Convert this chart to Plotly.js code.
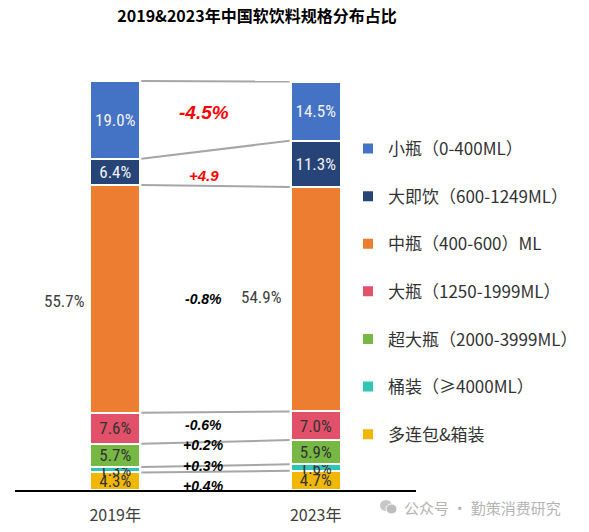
<!DOCTYPE html>
<html>
<head>
<meta charset="utf-8">
<script src="https://cdn.plot.ly/plotly-3.0.1.min.js"></script>
<style>html,body{margin:0;padding:0;background:#fff;}#chart{width:589px;height:532px;}</style>
</head>
<body>
<div id="chart"></div>
<script>
// ---- data ----
const categories = ['2019年', '2023年'];
const seriesNames = ['多连包&箱装', '桶装（≥4000ML）', '超大瓶（2000-3999ML）', '大瓶（1250-1999ML）', '中瓶（400-600）ML', '大即饮（600-1249ML）', '小瓶（0-400ML）'];
const values2019 = [4.3, 1.3, 5.7, 7.6, 55.7, 6.4, 19.0];
const values2023 = [4.7, 1.6, 5.9, 7.0, 54.9, 11.3, 14.5];
const changeLabels = ['+0.4%', '+0.3%', '+0.2%', '-0.6%', '-0.8%', '+4.9', '-4.5%'];
const titleText = '2019&2023年中国软饮料规格分布占比';
const watermarkText = '公众号 · 勤策消费研究';

// ---- styles ----
const colors = ['#F2B705', '#2EC4B6', '#76B843', '#E2506A', '#ED7D31', '#264478', '#4472C4'];
const labelColors = ['#333333', '#333333', '#333333', '#333333', '#333333', '#F2F2F2', '#F2F2F2'];
const cjk = '"Noto Sans CJK SC", "Noto Sans", sans-serif';
const num = '"Liberation Sans Narrow", "Roboto Condensed", "Liberation Sans", Arial, sans-serif';
const BW = 0.25;            // bar width (category units)
const MID = 4;              // index of 中瓶 (label outside)
const changeStyle = [
  {size: 14, color: '#000', yshift: -5},
  {size: 14, color: '#000', yshift: 3},
  {size: 14, color: '#000', yshift: 9},
  {size: 14, color: '#000', yshift: 2},
  {size: 14, color: '#000', yshift: 0},
  {size: 15, color: '#FF0000', yshift: -8},
  {size: 19, color: '#FF0000', yshift: 3}
];

const traces = seriesNames.map((name, i) => ({
  type: 'bar',
  name: name,
  legendgroup: 'g' + i,
  legendrank: 100 - i,
  x: categories,
  y: [values2019[i], values2023[i]],
  width: BW,
  marker: {color: colors[i], line: {color: '#ffffff', width: 2}},
  text: i === MID ? null : [values2019[i], values2023[i]].map(v => v.toFixed(1) + '%'),
  textposition: i === MID ? 'none' : 'inside',
  insidetextanchor: 'middle',
  constraintext: 'none',
  textfont: {family: num, size: 17, color: labelColors[i]},
  hoverinfo: 'skip'
}));

// cumulative boundaries
const cum = (arr) => { let s = 0; return arr.map(v => (s += v)); };
const top19 = cum(values2019), top23 = cum(values2023);
const bot19 = top19.map((t, i) => t - values2019[i]);
const bot23 = top23.map((t, i) => t - values2023[i]);

const shapes = top19.map((t, i) => ({
  type: 'line', xref: 'x', yref: 'y',
  x0: 0 + BW / 2 + 0.005, x1: 1 - BW / 2 - 0.005,
  y0: t, y1: top23[i],
  line: {color: '#A6A6A6', width: 2}
}));

// watermark icon (paper coords from pixel helper)
const L = 15, R = 416, T = 77, B = 490;
const px = (x) => (x - L) / (R - L);
const py = (y) => (B - y) / (B - T);
shapes.push({type: 'circle', xref: 'paper', yref: 'paper', x0: px(380), x1: px(392), y0: py(511), y1: py(500), fillcolor: '#C8C8C8', line: {width: 0}});
shapes.push({type: 'circle', xref: 'paper', yref: 'paper', x0: px(386), x1: px(397), y0: py(514), y1: py(504), fillcolor: '#BDBDBD', line: {color: '#fff', width: 1}});

const annotations = [];
changeLabels.forEach((t, i) => {
  const m = ((bot19[i] + top19[i]) / 2 + (bot23[i] + top23[i]) / 2) / 2;
  annotations.push({
    x: 0.5, y: m, xref: 'x', yref: 'y', text: '<b><i>' + t + '</i></b>', showarrow: false,
    xshift: -12, yshift: changeStyle[i].yshift,
    font: {family: '"Liberation Sans", Arial, sans-serif', size: changeStyle[i].size, color: changeStyle[i].color}
  });
});
[values2019[MID], values2023[MID]].forEach((v, k) => {
  annotations.push({
    x: k - BW / 2, y: (k === 0 ? (bot19[MID] + top19[MID]) : (bot23[MID] + top23[MID])) / 2,
    xref: 'x', yref: 'y', xanchor: 'right', xshift: k === 0 ? -4 : -8, yshift: k === 0 ? -2 : 2,
    text: v.toFixed(1) + '%', showarrow: false,
    font: {family: num, size: 17, color: '#404040'}
  });
});
annotations.push({
  xref: 'paper', yref: 'paper', x: px(402), y: py(507), xanchor: 'left', yanchor: 'middle',
  text: watermarkText, showarrow: false, font: {family: cjk, size: 15, color: '#B4B4B4'}
});

const layout = {
  width: 589, height: 532,
  margin: {l: L, r: 589 - R, t: T, b: 532 - B, autoexpand: false},
  paper_bgcolor: '#ffffff', plot_bgcolor: '#ffffff',
  barmode: 'stack',
  title: {text: '<b>' + titleText + '</b>', x: 257 / 589, xanchor: 'center', y: 1 - 16 / 532, yanchor: 'middle',
          font: {family: cjk, size: 16, color: '#000'}},
  xaxis: {type: 'category', range: [-0.5, 1.5], showline: true, linecolor: '#000', linewidth: 2,
          ticks: '', ticklabelstandoff: 10, tickfont: {family: cjk, size: 16, color: '#404040'},
          showgrid: false, zeroline: false, fixedrange: true},
  yaxis: {range: [0, 101], visible: false, showgrid: false, zeroline: false, fixedrange: true},
  showlegend: true,
  legend: {x: px(348), xanchor: 'left', y: py(131), yanchor: 'top', traceorder: 'grouped',
           tracegroupgap: 22.5, font: {family: cjk, size: 17, color: '#333333'}, bgcolor: 'rgba(0,0,0,0)'},
  shapes: shapes,
  annotations: annotations
};

Plotly.newPlot('chart', traces, layout, {displayModeBar: false, staticPlot: true});
</script>
</body>
</html>
